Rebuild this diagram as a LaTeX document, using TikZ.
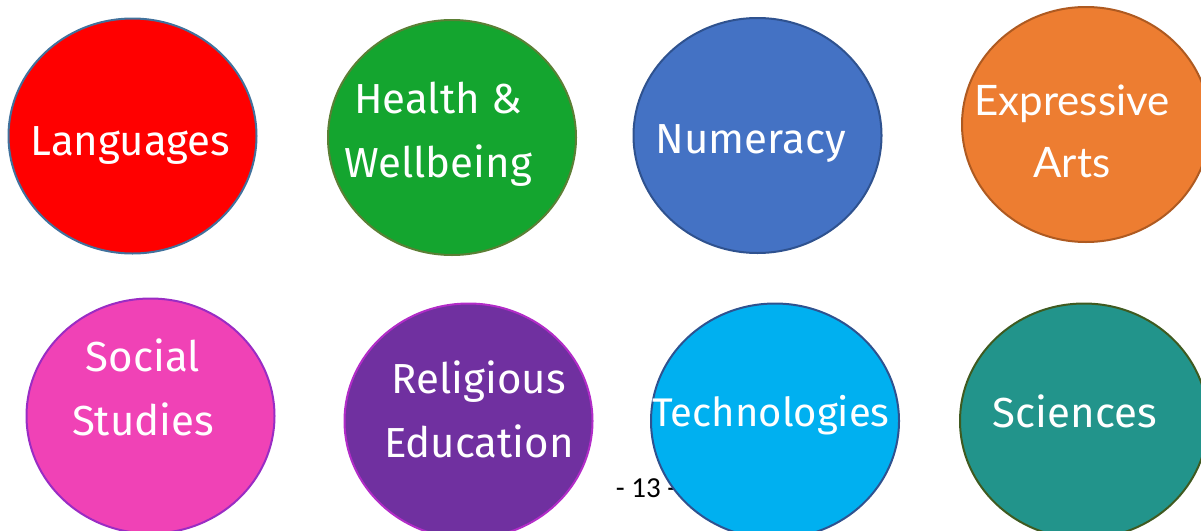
\documentclass[tikz,border=0pt]{standalone}
\usepackage{fontspec}
\setmainfont{Fira Sans}
\newfontfamily\artsfont{Lato}
\newfontfamily\pagefont{Carlito}
\usetikzlibrary{shapes.geometric}
\definecolor{langfill}{HTML}{FF0000}
\definecolor{langline}{HTML}{41719C}
\definecolor{healthfill}{HTML}{14A52F}
\definecolor{healthline}{HTML}{5B7F35}
\definecolor{numfill}{HTML}{4472C4}
\definecolor{numline}{HTML}{2F528F}
\definecolor{artsfill}{HTML}{ED7D31}
\definecolor{artsline}{HTML}{AE5A21}
\definecolor{socialfill}{HTML}{F042B6}
\definecolor{socialline}{HTML}{9A2CC4}
\definecolor{refill}{HTML}{7030A0}
\definecolor{reline}{HTML}{B22CC8}
\definecolor{techfill}{HTML}{00B0F0}
\definecolor{techline}{HTML}{2F528F}
\definecolor{scifill}{HTML}{22948B}
\definecolor{sciline}{HTML}{3F5A20}
\tikzset{
  subject/.style = {
    ellipse, draw, line width=2pt,
    minimum width=248pt, minimum height=235pt, inner sep=0pt
  },
  subjtext/.style = {
    text=white, align=center, inner sep=0pt,
    font=\fontsize{42}{64}\selectfont
  }
}

\begin{document}
\begin{tikzpicture}[x=1pt,y=-1pt]
  \useasboundingbox (0,0) rectangle (1201,530);
  \clip (0,0) rectangle (1201,530);
  \node[anchor=base,font=\pagefont\fontsize{29}{34}\selectfont] (page) at (646,497) {- 13 -};
  % top row
  \node[subject,draw=langline,fill=langfill] (lang) at (132.5,136) {};
  \node[subjtext,anchor=base] (lang-t) at (130.5,155) {Languages};
  \node[subject,draw=healthline,fill=healthfill] (health) at (452,137.5) {};
  \node[subjtext,anchor=base] (health-t) at (438,177) {Health \&\\Wellbeing};
  \node[subject,draw=numline,fill=numfill] (num) at (757.5,135.5) {};
  \node[subjtext,anchor=base] (num-t) at (751,153) {Numeracy};
  \node[subject,draw=artsline,fill=artsfill] (arts) at (1086,124.5) {};
  \node[subjtext,anchor=base,font=\artsfont\fontsize{42}{62}\selectfont] (arts-t) at (1072,177) {Expressive\\Arts};
  % bottom row
  \node[subject,draw=socialline,fill=socialfill] (social) at (150.5,416) {};
  \node[subjtext,anchor=base] (social-t) at (143,435) {Social\\Studies};
  \node[subject,draw=reline,fill=refill] (re) at (468.5,421) {};
  \node[subjtext,anchor=base] (re-t) at (479,457) {Religious\\Education};
  \node[subject,draw=techline,fill=techfill] (tech) at (775,421) {};
  \node[subjtext,anchor=base,font=\fontsize{40}{64}\selectfont] (tech-t) at (771,426) {Technologies};
  \node[subject,draw=sciline,fill=scifill] (sci) at (1084,421) {};
  \node[subjtext,anchor=base] (sci-t) at (1075,427) {Sciences};
\end{tikzpicture}
\end{document}
